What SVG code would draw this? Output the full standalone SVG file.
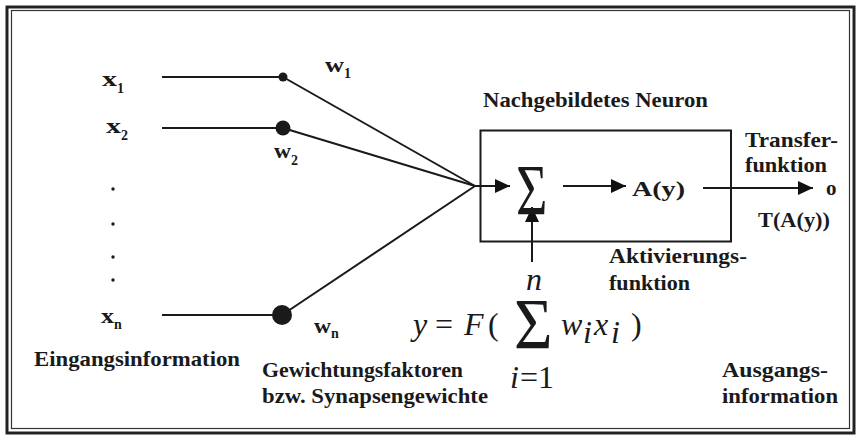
<svg xmlns="http://www.w3.org/2000/svg" width="857" height="436" viewBox="0 0 857 436">
<defs>
<marker id="ah" markerUnits="userSpaceOnUse" markerWidth="16" markerHeight="16" viewBox="0 0 16 16" refX="15" refY="8" orient="auto">
<path d="M0,1 L15,8 L0,15 Z" fill="#111"/>
</marker>
<style>
.ln{stroke:#1a1a1a;stroke-width:2;fill:none}
.ar{stroke:#1a1a1a;stroke-width:2;fill:none;marker-end:url(#ah)}
</style>
</defs>
<rect width="857" height="436" fill="#fff"/>
<g id="frame">
<rect x="7" y="7" width="847" height="426" fill="none" stroke="#222" stroke-width="3"/>
<rect x="11.5" y="10.5" width="838" height="418" fill="none" stroke="#333" stroke-width="1.2"/>
</g>
<g id="connectors">
<line class="ln" x1="162" y1="77" x2="283" y2="77"/>
<line class="ln" x1="162" y1="128" x2="283" y2="128"/>
<line class="ln" x1="162" y1="315" x2="282" y2="315"/>
<line class="ln" x1="283" y1="77" x2="475" y2="186"/>
<line class="ln" x1="283" y1="128" x2="475" y2="186"/>
<line class="ln" x1="282" y1="315" x2="475" y2="186"/>
<line class="ar" x1="475" y1="186" x2="510" y2="186"/>
<line class="ar" x1="563" y1="186" x2="626" y2="186"/>
<line class="ar" x1="703" y1="188" x2="813" y2="188"/>
<line class="ar" x1="532" y1="262" x2="532" y2="207"/>
</g>
<g id="inputs" fill="#1a1a1a">
<text font-family="Liberation Serif" font-weight="bold" font-size="21" x="102" y="86" textLength="15" lengthAdjust="spacingAndGlyphs">x</text><text font-family="Liberation Serif" font-weight="bold" font-size="14" x="117" y="93">1</text>
<text font-family="Liberation Serif" font-weight="bold" font-size="21" x="106" y="133" textLength="15" lengthAdjust="spacingAndGlyphs">x</text><text font-family="Liberation Serif" font-weight="bold" font-size="14" x="121" y="140">2</text>
<circle cx="113" cy="189" r="1.7"/>
<circle cx="113" cy="224" r="1.7"/>
<circle cx="113" cy="257" r="1.7"/>
<circle cx="113" cy="280" r="1.7"/>
<text font-family="Liberation Serif" font-weight="bold" font-size="21" x="101" y="323" textLength="13" lengthAdjust="spacingAndGlyphs">x</text><text font-family="Liberation Serif" font-weight="bold" font-size="14" x="114" y="329">n</text>
<text font-family="Liberation Serif" font-weight="bold" font-size="21" x="34" y="366" textLength="206" lengthAdjust="spacingAndGlyphs">Eingangsinformation</text>
</g>
<g id="weights" fill="#1a1a1a">
<circle cx="283" cy="77" r="4.5"/>
<circle cx="283" cy="128" r="7.5"/>
<circle cx="282" cy="315" r="10"/>
<text font-family="Liberation Serif" font-weight="bold" font-size="21" x="325" y="72" textLength="19" lengthAdjust="spacingAndGlyphs">w</text><text font-family="Liberation Serif" font-weight="bold" font-size="14" x="344" y="78">1</text>
<text font-family="Liberation Serif" font-weight="bold" font-size="21" x="274" y="158" textLength="17" lengthAdjust="spacingAndGlyphs">w</text><text font-family="Liberation Serif" font-weight="bold" font-size="14" x="291" y="165">2</text>
<text font-family="Liberation Serif" font-weight="bold" font-size="21" x="314" y="333" textLength="17" lengthAdjust="spacingAndGlyphs">w</text><text font-family="Liberation Serif" font-weight="bold" font-size="14" x="331" y="338">n</text>
<text font-family="Liberation Serif" font-weight="bold" font-size="21" x="262" y="377" textLength="201" lengthAdjust="spacingAndGlyphs">Gewichtungsfaktoren</text>
<text font-family="Liberation Serif" font-weight="bold" font-size="21" x="262" y="403" textLength="226" lengthAdjust="spacingAndGlyphs">bzw. Synapsengewichte</text>
</g>
<g id="neuron" fill="#1a1a1a">
<text font-family="Liberation Serif" font-weight="bold" font-size="21" x="483" y="107" textLength="225" lengthAdjust="spacingAndGlyphs">Nachgebildetes Neuron</text>
<rect x="480.5" y="130.5" width="250.5" height="111" fill="none" stroke="#1a1a1a" stroke-width="2"/>
<text font-family="Liberation Serif" font-size="72" transform="translate(516,214) scale(0.75,1)">Σ</text>
<text font-family="Liberation Serif" font-weight="bold" font-size="21" x="632" y="196" textLength="53" lengthAdjust="spacingAndGlyphs">A(y)</text>
</g>
<g id="activation" fill="#1a1a1a">
<text font-family="Liberation Serif" font-weight="bold" font-size="21" x="609" y="263" textLength="138" lengthAdjust="spacingAndGlyphs">Aktivierungs-</text>
<text font-family="Liberation Serif" font-weight="bold" font-size="21" x="609" y="290" textLength="81" lengthAdjust="spacingAndGlyphs">funktion</text>
</g>
<g id="transfer" fill="#1a1a1a">
<text font-family="Liberation Serif" font-weight="bold" font-size="21" x="745" y="147" textLength="93" lengthAdjust="spacingAndGlyphs">Transfer-</text>
<text font-family="Liberation Serif" font-weight="bold" font-size="21" x="745" y="172" textLength="82" lengthAdjust="spacingAndGlyphs">funktion</text>
<text font-family="Liberation Serif" font-weight="bold" font-size="21" x="758" y="227" textLength="72" lengthAdjust="spacingAndGlyphs">T(A(y))</text>
</g>
<g id="output" fill="#1a1a1a">
<text font-family="Liberation Serif" font-weight="bold" font-size="21" x="826" y="195">o</text>
<text font-family="Liberation Serif" font-weight="bold" font-size="21" x="722" y="377" textLength="106" lengthAdjust="spacingAndGlyphs">Ausgangs-</text>
<text font-family="Liberation Serif" font-weight="bold" font-size="21" x="722" y="403" textLength="116" lengthAdjust="spacingAndGlyphs">information</text>
</g>
<g id="formula" fill="#1a1a1a">
<text font-family="Liberation Serif" font-style="italic" font-size="32" x="526" y="290">n</text>
<text font-family="Liberation Serif" font-style="italic" font-size="32" x="413" y="335">y</text>
<text font-family="Liberation Serif" font-size="32" x="435" y="335">=</text>
<text font-family="Liberation Serif" font-style="italic" font-size="32" x="464" y="335">F</text>
<text font-family="Liberation Serif" font-size="32" x="488" y="335">(</text>
<text font-family="Liberation Serif" font-size="72" transform="translate(514,348) scale(0.92,1)">Σ</text>
<text font-family="Liberation Serif" font-style="italic" font-size="32" x="561" y="335">w</text>
<text font-family="Liberation Serif" font-style="italic" font-size="32" x="583" y="343">i</text>
<text font-family="Liberation Serif" font-style="italic" font-size="32" x="594" y="335">x</text>
<text font-family="Liberation Serif" font-style="italic" font-size="32" x="611" y="343">i</text>
<text font-family="Liberation Serif" font-size="32" x="631" y="335">)</text>
<text font-family="Liberation Serif" font-style="italic" font-size="32" x="510" y="388">i</text>
<text font-family="Liberation Serif" font-size="32" x="520" y="388">=1</text>
</g>
</svg>
